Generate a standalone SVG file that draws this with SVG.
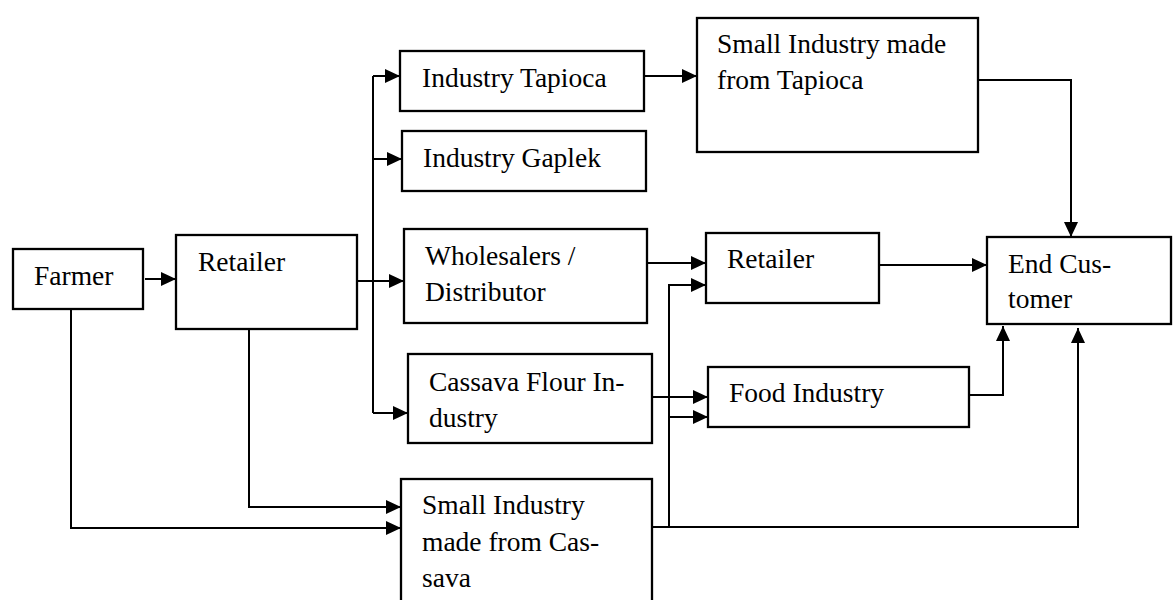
<svg xmlns="http://www.w3.org/2000/svg" width="1173" height="600" viewBox="0 0 1173 600">
<style>
.box{fill:#fff;stroke:#000;stroke-width:2.3}
.t{font-family:"Liberation Serif","Times New Roman",serif;font-size:27.5px;fill:#000}
.c{fill:none;stroke:#000;stroke-width:2}
</style>
<defs>
<marker id="ah" markerUnits="userSpaceOnUse" markerWidth="15" markerHeight="14" refX="15" refY="7" orient="auto" viewBox="0 0 15 14">
<path d="M0,0 L15,7 L0,14 Z" fill="#000"/>
</marker>
</defs>
<rect width="1173" height="600" fill="#fff"/>
<g id="connectors">
<path class="c" d="M145,279 H176" marker-end="url(#ah)"/>
<path class="c" d="M357,281 H404" marker-end="url(#ah)"/>
<path class="c" d="M373,76 V413"/>
<path class="c" d="M373,76 H400" marker-end="url(#ah)"/>
<path class="c" d="M373,159 H402" marker-end="url(#ah)"/>
<path class="c" d="M373,413 H408" marker-end="url(#ah)"/>
<path class="c" d="M249,329 V507 H401" marker-end="url(#ah)"/>
<path class="c" d="M71,309 V528 H401" marker-end="url(#ah)"/>
<path class="c" d="M644,76 H697" marker-end="url(#ah)"/>
<path class="c" d="M978,80 H1071 V237" marker-end="url(#ah)"/>
<path class="c" d="M647,263 H706" marker-end="url(#ah)"/>
<path class="c" d="M669,526 V285 H706" marker-end="url(#ah)"/>
<path class="c" d="M669,417 H708" marker-end="url(#ah)"/>
<path class="c" d="M652,397 H708" marker-end="url(#ah)"/>
<path class="c" d="M879,265 H987" marker-end="url(#ah)"/>
<path class="c" d="M969,395 H1003 V326" marker-end="url(#ah)"/>
<path class="c" d="M652,527 H1078 V328" marker-end="url(#ah)"/>
</g>
<g id="farmer"><rect class="box" x="13" y="249" width="130" height="60"/><text class="t" x="34" y="285">Farmer</text></g>
<g id="retailer1"><rect class="box" x="176" y="235" width="181" height="94"/><text class="t" x="198" y="271">Retailer</text></g>
<g id="industry-tapioca"><rect class="box" x="400" y="51" width="244" height="60"/><text class="t" x="422" y="87">Industry Tapioca</text></g>
<g id="industry-gaplek"><rect class="box" x="402" y="131" width="244" height="60"/><text class="t" x="423" y="167">Industry Gaplek</text></g>
<g id="wholesalers"><rect class="box" x="404" y="229" width="243" height="94"/><text class="t" x="425" y="265">Wholesalers /</text><text class="t" x="425" y="301">Distributor</text></g>
<g id="cassava-flour"><rect class="box" x="408" y="354" width="244" height="89"/><text class="t" x="429" y="391">Cassava Flour In-</text><text class="t" x="429" y="427">dustry</text></g>
<g id="small-cassava"><rect class="box" x="401" y="479" width="251" height="135"/><text class="t" x="422" y="514">Small Industry</text><text class="t" x="422" y="551">made from Cas-</text><text class="t" x="422" y="587">sava</text></g>
<g id="small-tapioca"><rect class="box" x="697" y="18" width="281" height="134"/><text class="t" x="717" y="53">Small Industry made</text><text class="t" x="717" y="89">from Tapioca</text></g>
<g id="retailer2"><rect class="box" x="706" y="233" width="173" height="70"/><text class="t" x="727" y="268">Retailer</text></g>
<g id="food-industry"><rect class="box" x="708" y="367" width="261" height="60"/><text class="t" x="729" y="402">Food Industry</text></g>
<g id="end-customer"><rect class="box" x="987" y="237" width="184" height="87"/><text class="t" x="1008" y="273">End Cus-</text><text class="t" x="1008" y="308">tomer</text></g>
</svg>
